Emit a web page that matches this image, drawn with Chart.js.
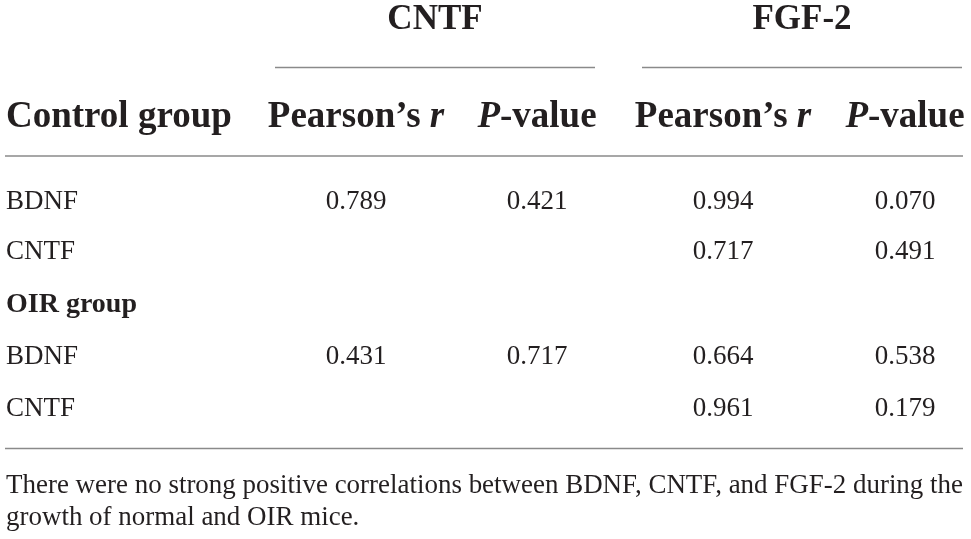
<!DOCTYPE html>
<html lang="en">
<head>
    <meta charset="UTF-8">
    <title>Correlations between BDNF, CNTF and FGF-2</title>
    <script src="https://cdn.jsdelivr.net/npm/chart.js"></script>
    <style>
        body { margin: 0; background: #fff; }
        #wrap { width: 971px; height: 539px; }
    </style>
</head>
<body>
<div id="wrap"><canvas id="tableChart"></canvas></div>
<script>
    // table data
    const factors = ['CNTF', 'FGF-2'];
    const groups = ['Control group', 'OIR group'];
    const rowLabels = ['BDNF', 'CNTF', 'BDNF', 'CNTF'];
    const cntfR = [0.789, null, 0.431, null];
    const cntfP = [0.421, null, 0.717, null];
    const fgfR = [0.994, 0.717, 0.664, 0.961];
    const fgfP = [0.070, 0.491, 0.538, 0.179];
    const note = [
        'There were no strong positive correlations between BDNF, CNTF, and FGF-2 during the',
        'growth of normal and OIR mice.'
    ];

    // layout (pixel units of the hidden linear scales)
    const colX = [356, 537, 723, 905];
    const factorX = [435, 802];
    const spanX = [[275, 595], [642, 962]];
    const dataRowY = [202, 252, 357, 409];
    const groupRowY = 305;
    const serif = '"Liberation Serif", "DejaVu Serif", serif';
    const ink = '#231f20';
    const rule = '#8a8a8a';

    const columns = [cntfR, cntfP, fgfR, fgfP];
    const cells = [];
    columns.forEach((col, c) => {
        col.forEach((v, r) => {
            if (v !== null) cells.push({ x: colX[c], y: dataRowY[r], v: v });
        });
    });

    function runs(ctx, parts, cx, y, size) {
        // parts: [text, italic]
        let total = 0;
        parts.forEach(p => {
            ctx.font = (p[1] ? 'italic ' : '') + 'bold ' + size + 'px ' + serif;
            total += ctx.measureText(p[0]).width;
        });
        let x = cx - total / 2;
        parts.forEach(p => {
            ctx.font = (p[1] ? 'italic ' : '') + 'bold ' + size + 'px ' + serif;
            ctx.fillText(p[0], x, y);
            x += ctx.measureText(p[0]).width;
        });
    }

    const tablePlugin = {
        id: 'tablePlugin',
        afterDatasetsDraw(chart) {
            const ctx = chart.ctx;
            const xs = chart.scales.x, ys = chart.scales.y;
            const px = v => xs.getPixelForValue(v);
            const py = v => ys.getPixelForValue(v);
            ctx.save();
            ctx.fillStyle = ink;
            ctx.textBaseline = 'middle';

            // factor headers
            ctx.textAlign = 'center';
            ctx.font = 'bold 35px ' + serif;
            factors.forEach((f, i) => ctx.fillText(f, px(factorX[i]), py(20)));

            // rules
            ctx.strokeStyle = rule;
            ctx.lineWidth = 1.3;
            const hline = (x0, x1, y) => {
                ctx.beginPath();
                ctx.moveTo(px(x0), py(y));
                ctx.lineTo(px(x1), py(y));
                ctx.stroke();
            };
            spanX.forEach(s => hline(s[0], s[1], 67.5));
            hline(5, 963, 156);
            hline(5, 963, 448.5);

            // column headers
            ctx.textAlign = 'left';
            ctx.textBaseline = 'alphabetic';
            ctx.font = 'bold 37px ' + serif;
            ctx.fillText(groups[0], px(6), py(127));
            for (let i = 0; i < 2; i++) {
                runs(ctx, [['Pearson\u2019s ', false], ['r', true]], px(colX[i * 2]), py(127), 37);
                runs(ctx, [['P', true], ['-value', false]], px(colX[i * 2 + 1]), py(127), 37);
            }

            // row labels
            ctx.textBaseline = 'middle';
            ctx.textAlign = 'left';
            ctx.font = '27px ' + serif;
            rowLabels.forEach((l, r) => ctx.fillText(l, px(6), py(dataRowY[r])));
            ctx.font = 'bold 28px ' + serif;
            ctx.fillText(groups[1], px(6), py(groupRowY));

            // cell values
            ctx.textAlign = 'center';
            ctx.font = '27px ' + serif;
            const meta = chart.getDatasetMeta(0);
            meta.data.forEach((pt, i) => {
                ctx.fillText(cells[i].v.toFixed(3), pt.x, pt.y);
            });

            // footnote, condensed to the table width
            ctx.textAlign = 'left';
            ctx.textBaseline = 'middle';
            ctx.font = '28px ' + serif;
            const w = ctx.measureText(note[0]).width;
            const k = (px(963) - px(6)) / w;
            [486, 518].forEach((y, i) => {
                ctx.save();
                ctx.translate(px(6), py(y));
                ctx.scale(k, 1);
                ctx.fillText(note[i], 0, 0);
                ctx.restore();
            });
            ctx.restore();
        }
    };

    new Chart(document.getElementById('tableChart').getContext('2d'), {
        type: 'scatter',
        data: {
            datasets: [{
                label: 'cells',
                data: cells,
                pointRadius: 0,
                pointHoverRadius: 0,
                backgroundColor: 'rgba(0,0,0,0)'
            }]
        },
        options: {
            responsive: true,
            maintainAspectRatio: false,
            animation: false,
            layout: { padding: 0 },
            plugins: { legend: { display: false }, tooltip: { enabled: false } },
            scales: {
                x: { type: 'linear', min: 0, max: 971, display: false },
                y: { type: 'linear', min: 0, max: 539, reverse: true, display: false }
            }
        },
        plugins: [tablePlugin]
    });
</script>
</body>
</html>
